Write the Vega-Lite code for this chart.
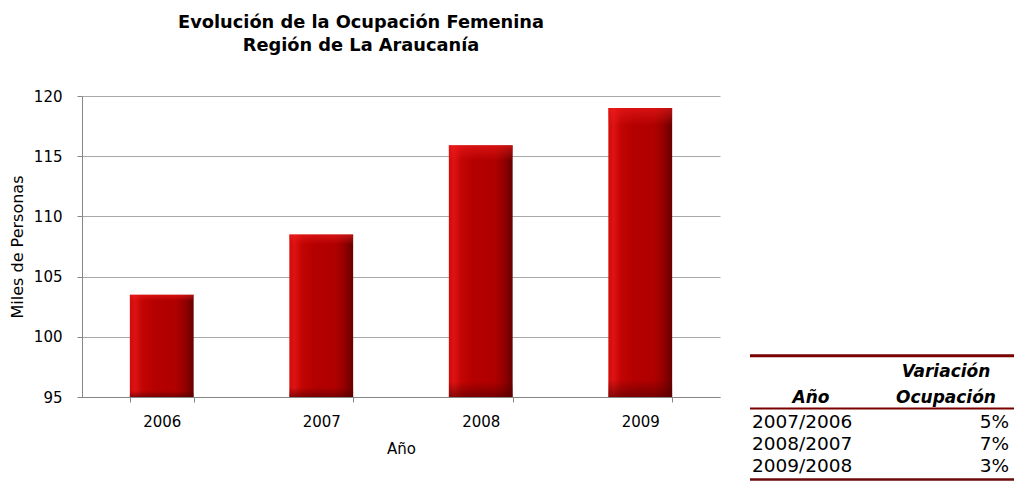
{
  "$schema": "https://vega.github.io/schema/vega-lite/v6.json",
  "padding": {"left": 9, "top": 14, "right": 0, "bottom": 0},
  "background": "white",
  "config": {
    "view": {"stroke": null},
    "font": "DejaVu Sans"
  },
  "datasets": {
    "ocupacion": [
      {"anio": "2006", "miles": 103.5},
      {"anio": "2007", "miles": 108.5},
      {"anio": "2008", "miles": 115.9},
      {"anio": "2009", "miles": 119.0}
    ],
    "variacion": [
      {"periodo": "2007/2006", "variacion": 0.05},
      {"periodo": "2008/2007", "variacion": 0.07},
      {"periodo": "2009/2008", "variacion": 0.03}
    ]
  },
  "spacing": 28,
  "hconcat": [
    {
      "width": 638,
      "height": 301,
      "title": {
        "text": ["Evolución de la Ocupación Femenina", "Región de La Araucanía"],
        "font": "DejaVu Sans",
        "fontSize": 17.8,
        "fontWeight": "bold",
        "color": "#000000",
        "anchor": "middle",
        "dx": -40,
        "lineHeight": 23,
        "offset": 34
      },
      "data": {"name": "ocupacion"},
      "encoding": {
        "x": {
          "field": "anio",
          "type": "ordinal",
          "scale": {"paddingInner": 0.6, "paddingOuter": 0.3},
          "axis": {
            "title": "Año",
            "labelAngle": 0,
            "tickBand": "extent",
            "tickSize": 5,
            "tickColor": "#868686",
            "domainColor": "#868686",
            "labelFont": "DejaVu Sans",
            "labelFontSize": 15,
            "labelColor": "#000000",
            "labelPadding": 12,
            "titleFont": "DejaVu Sans",
            "titleFontSize": 15,
            "titleFontWeight": "normal",
            "titleColor": "#000000",
            "titlePadding": 12,
            "grid": false
          }
        },
        "y": {
          "field": "miles",
          "type": "quantitative",
          "scale": {"domain": [95, 120], "zero": false, "nice": false},
          "axis": {
            "title": "Miles de Personas",
            "values": [95, 100, 105, 110, 115, 120],
            "tickSize": 5,
            "tickColor": "#868686",
            "domainColor": "#868686",
            "gridColor": "#a8a8a8",
            "labelFont": "DejaVu Sans",
            "labelFontSize": 15,
            "labelColor": "#000000",
            "labelPadding": 15,
            "titleFont": "DejaVu Sans",
            "titleFontSize": 16,
            "titleFontWeight": "normal",
            "titleColor": "#000000",
            "titlePadding": 8
          }
        },
        "y2": {"datum": 95}
      },
      "layer": [
        {
          "mark": {
            "type": "bar",
            "color": {
              "gradient": "linear",
              "x1": 0, "y1": 0, "x2": 1, "y2": 0,
              "stops": [
                {"offset": 0, "color": "#d00a0a"},
                {"offset": 0.08, "color": "#de1313"},
                {"offset": 0.2, "color": "#c20404"},
                {"offset": 0.4, "color": "#b40000"},
                {"offset": 0.72, "color": "#b00000"},
                {"offset": 0.86, "color": "#940000"},
                {"offset": 1, "color": "#680000"}
              ]
            }
          }
        },
        {
          "mark": {
            "type": "bar",
            "color": {
              "gradient": "linear",
              "x1": 0, "y1": 0, "x2": 0, "y2": 1,
              "stops": [
                {"offset": 0, "color": "rgba(240,30,30,0.6)"},
                {"offset": 0.06, "color": "rgba(240,30,30,0)"},
                {"offset": 0.94, "color": "rgba(80,0,0,0)"},
                {"offset": 1, "color": "rgba(80,0,0,0.6)"}
              ]
            }
          }
        }
      ]
    },
    {
      "width": 266,
      "height": 385,
      "data": {"name": "variacion"},
      "encoding": {
        "y": {
          "field": "periodo",
          "type": "nominal",
          "scale": {
            "domain": ["encabezado", "2007/2006", "2008/2007", "2009/2008"],
            "paddingInner": 0,
            "paddingOuter": 0,
            "range": [293.7, 380.5]
          },
          "axis": null
        }
      },
      "layer": [
        {
          "mark": {"type": "text", "align": "left", "baseline": "middle", "font": "DejaVu Sans", "fontSize": 18.5, "color": "#000000", "dx": 2},
          "encoding": {"x": {"value": 0}, "text": {"field": "periodo"}}
        },
        {
          "mark": {"type": "text", "align": "right", "baseline": "middle", "font": "DejaVu Sans", "fontSize": 18.5, "color": "#000000", "dx": -7},
          "encoding": {"x": {"value": "width"}, "text": {"field": "variacion", "format": ".0%"}}
        },
        {
          "data": {"values": [{}]},
          "mark": {"type": "text", "text": "Año", "align": "center", "baseline": "middle", "font": "DejaVu Sans", "fontSize": 17, "fontWeight": "bold", "fontStyle": "italic", "color": "#000000", "dx": 61, "dy": -3},
          "encoding": {"x": {"value": 0}, "y": {"datum": "encabezado", "type": "nominal"}}
        },
        {
          "data": {"values": [{}]},
          "mark": {"type": "text", "text": "Ocupación", "align": "center", "baseline": "middle", "font": "DejaVu Sans", "fontSize": 17, "fontWeight": "bold", "fontStyle": "italic", "color": "#000000", "dx": -70, "dy": -3},
          "encoding": {"x": {"value": "width"}, "y": {"datum": "encabezado", "type": "nominal"}}
        },
        {
          "data": {"values": [{}]},
          "mark": {"type": "text", "text": "Variación", "align": "center", "baseline": "middle", "font": "DejaVu Sans", "fontSize": 17, "fontWeight": "bold", "fontStyle": "italic", "color": "#000000", "dx": -70, "dy": -29},
          "encoding": {"x": {"value": "width"}, "y": {"datum": "encabezado", "type": "nominal"}}
        },
        {
          "data": {"values": [{}]},
          "mark": {"type": "rule", "color": "#7a0000", "strokeWidth": 3, "yOffset": -34},
          "encoding": {"x": {"value": 0}, "x2": {"value": "width"}, "y": {"datum": "encabezado", "type": "nominal", "bandPosition": 0}}
        },
        {
          "data": {"values": [{}]},
          "mark": {"type": "rule", "color": "#7a0000", "strokeWidth": 2, "yOffset": -3},
          "encoding": {"x": {"value": 0}, "x2": {"value": "width"}, "y": {"datum": "2007/2006", "type": "nominal", "bandPosition": 0}}
        },
        {
          "data": {"values": [{}]},
          "mark": {"type": "rule", "color": "#6a0a0a", "strokeWidth": 2.5, "yOffset": 3},
          "encoding": {"x": {"value": 0}, "x2": {"value": "width"}, "y": {"datum": "2009/2008", "type": "nominal", "bandPosition": 1}}
        }
      ]
    }
  ]
}
